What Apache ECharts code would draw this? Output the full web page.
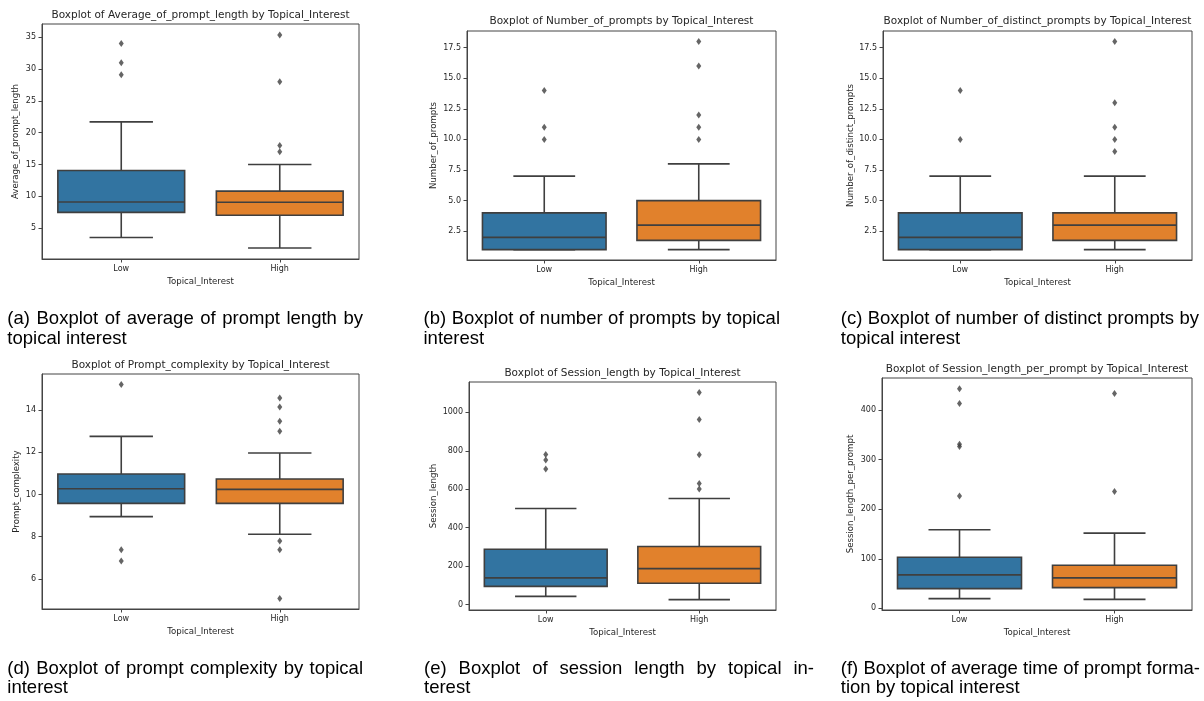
<!DOCTYPE html>
<html><head><meta charset="utf-8">
<script src="https://cdn.jsdelivr.net/npm/echarts@6/dist/echarts.min.js"></script>
<style>html,body{margin:0;padding:0;background:#fff}#c{width:1204px;height:701px}</style>
</head><body><div id="c"></div>
<script>
// ---------- DATA ----------
const categories = ['Low', 'High'];
// box stats: [lower whisker, Q1, median, Q3, upper whisker]
const avgLenLow = [3.5, 7.45, 9.1, 14.05, 21.7];
const avgLenHigh = [1.85, 7.0, 9.05, 10.8, 15.0];
const avgLenOutLow = [29.1, 31.0, 34.05];
const avgLenOutHigh = [17.0, 18.0, 28.0, 35.35];
const avgLenTicks = [5, 10, 15, 20, 25, 30, 35];
const avgLenRange = [0.12, 37.1];

const numPromptsLow = [1, 1, 2, 4, 7];
const numPromptsHigh = [1, 1.75, 3, 5, 8];
const numPromptsOutLow = [10, 11, 14];
const numPromptsOutHigh = [10, 11, 12, 16, 18];
const numPromptsTicks = [2.5, 5, 7.5, 10, 12.5, 15, 17.5];
const numPromptsRange = [0.15, 18.85];

const distinctLow = [1, 1, 2, 4, 7];
const distinctHigh = [1, 1.75, 3, 4, 7];
const distinctOutLow = [10, 14];
const distinctOutHigh = [9, 10, 11, 13, 18];
const distinctTicks = [2.5, 5, 7.5, 10, 12.5, 15, 17.5];
const distinctRange = [0.15, 18.85];

const complexityLow = [8.95, 9.58, 10.27, 10.97, 12.75];
const complexityHigh = [8.12, 9.58, 10.24, 10.73, 11.96];
const complexityOutLow = [6.85, 7.38, 15.2];
const complexityOutHigh = [5.08, 7.38, 7.8, 12.99, 13.46, 14.14, 14.57];
const complexityTicks = [6, 8, 10, 12, 14];
const complexityRange = [4.58, 15.7];

const sessionLow = [43, 95, 139, 288, 500];
const sessionHigh = [26, 111, 187, 302, 552];
const sessionOutLow = [705, 752, 781];
const sessionOutHigh = [602, 630, 779, 963, 1104];
const sessionTicks = [0, 200, 400, 600, 800, 1000];
const sessionRange = [-28, 1158];

const perPromptLow = [19.6, 39.8, 67.5, 103, 158.6];
const perPromptHigh = [18.2, 41.8, 61.4, 87, 151.8];
const perPromptOutLow = [226.7, 326.6, 331, 413, 443];
const perPromptOutHigh = [235.5, 433];
const perPromptTicks = [0, 100, 200, 300, 400];
const perPromptRange = [-3.3, 464.5];

const titles = [
  'Boxplot of Average_of_prompt_length by Topical_Interest',
  'Boxplot of Number_of_prompts by Topical_Interest',
  'Boxplot of Number_of_distinct_prompts by Topical_Interest',
  'Boxplot of Prompt_complexity by Topical_Interest',
  'Boxplot of Session_length by Topical_Interest',
  'Boxplot of Session_length_per_prompt by Topical_Interest'
];
const yNames = ['Average_of_prompt_length', 'Number_of_prompts', 'Number_of_distinct_prompts',
  'Prompt_complexity', 'Session_length', 'Session_length_per_prompt'];
const xName = 'Topical_Interest';
const captionLine1 = [
  '(a) Boxplot of average of prompt length by',
  '(b) Boxplot of number of prompts by topical',
  '(c) Boxplot of number of distinct prompts by',
  '(d) Boxplot of prompt complexity by topical',
  '(e) Boxplot of session length by topical in-',
  '(f) Boxplot of average time of prompt forma-'
];
const captionLine2 = [
  'topical interest', 'interest', 'topical interest',
  'interest', 'terest', 'tion by topical interest'
];

// ---------- LAYOUT / STYLE ----------
const layouts = [
  {left: 42,  top: 24,  width: 317, height: 235, gap: 21.5, titleY: 15,  dec: 0},
  {left: 467, top: 31,  width: 309, height: 229, gap: 29,   titleY: 21,  dec: 1},
  {left: 883, top: 31,  width: 309, height: 229, gap: 27.5, titleY: 21,  dec: 1},
  {left: 42,  top: 374, width: 317, height: 235, gap: 21,   titleY: 365, dec: 0},
  {left: 469, top: 382, width: 307, height: 228, gap: 31,   titleY: 373, dec: 0},
  {left: 882, top: 378, width: 310, height: 232, gap: 27,   titleY: 369, dec: 0}
];
// caption: [left x, right x of justified first line, first-line middle y]
const capPos = [[7.3, 363, 319], [423.5, 780, 319], [840.8, 1199, 319],
                [7.3, 363, 668.5], [424, 814, 668.5], [840.8, 1200, 668.5]];
const CAP_LINE_H = 19.6;

const panels = [
  [avgLenLow, avgLenHigh, avgLenOutLow, avgLenOutHigh, avgLenTicks, avgLenRange],
  [numPromptsLow, numPromptsHigh, numPromptsOutLow, numPromptsOutHigh, numPromptsTicks, numPromptsRange],
  [distinctLow, distinctHigh, distinctOutLow, distinctOutHigh, distinctTicks, distinctRange],
  [complexityLow, complexityHigh, complexityOutLow, complexityOutHigh, complexityTicks, complexityRange],
  [sessionLow, sessionHigh, sessionOutLow, sessionOutHigh, sessionTicks, sessionRange],
  [perPromptLow, perPromptHigh, perPromptOutLow, perPromptOutHigh, perPromptTicks, perPromptRange]
];

const FONT = 'DejaVu Sans';
const CAP_FONT = '18.5px "Liberation Sans"';
const TXT = '#262626';
const EDGE = '#3f3f3f';
const FRAME = '#444';
const BOX_COLORS = ['#3274a1', '#e1812c'];
const LW = 1.6;

function renderBox(params, api) {
  const ci = api.value(0);
  const pLw = api.coord([ci, api.value(1)]);
  const pQ1 = api.coord([ci, api.value(2)]);
  const pMed = api.coord([ci, api.value(3)]);
  const pQ3 = api.coord([ci, api.value(4)]);
  const pHw = api.coord([ci, api.value(5)]);
  const bw = api.size([1, 0])[0] * 0.8;
  const x = pMed[0];
  const ls = {stroke: EDGE, lineWidth: LW};
  return {
    type: 'group',
    children: [
      {type: 'line', shape: {x1: x, y1: pLw[1], x2: x, y2: pQ1[1]}, style: ls},
      {type: 'line', shape: {x1: x, y1: pQ3[1], x2: x, y2: pHw[1]}, style: ls},
      {type: 'line', shape: {x1: x - bw / 4, y1: pLw[1], x2: x + bw / 4, y2: pLw[1]}, style: ls},
      {type: 'line', shape: {x1: x - bw / 4, y1: pHw[1], x2: x + bw / 4, y2: pHw[1]}, style: ls},
      {type: 'rect', shape: {x: x - bw / 2, y: pQ3[1], width: bw, height: pQ1[1] - pQ3[1]},
        style: {fill: BOX_COLORS[ci], stroke: EDGE, lineWidth: LW}},
      {type: 'line', shape: {x1: x - bw / 2, y1: pMed[1], x2: x + bw / 2, y2: pMed[1]}, style: ls}
    ]
  };
}

const measureCtx = document.createElement('canvas').getContext('2d');
measureCtx.font = CAP_FONT;

const grid = [], xAxis = [], yAxis = [], series = [], graphic = [];
panels.forEach((p, i) => {
  const [low, high, outLow, outHigh, ticks, range] = p;
  const L = layouts[i];
  grid.push({left: L.left, top: L.top, width: L.width, height: L.height,
    show: true, borderColor: FRAME, borderWidth: 1, backgroundColor: 'transparent'});
  xAxis.push({
    type: 'category', gridIndex: i, data: categories,
    name: xName, nameLocation: 'middle', nameGap: 18,
    nameTextStyle: {fontFamily: FONT, fontSize: 8.6, color: TXT},
    axisLine: {show: true, onZero: false, lineStyle: {color: FRAME, width: 1}},
    axisTick: {show: true, alignWithLabel: true, length: 3.5, lineStyle: {color: FRAME}},
    axisLabel: {fontFamily: FONT, fontSize: 8, color: TXT, margin: 5.5},
    splitLine: {show: false}
  });
  yAxis.push({
    type: 'value', gridIndex: i, min: range[0], max: range[1],
    name: yNames[i], nameLocation: 'middle', nameGap: L.gap,
    nameTextStyle: {fontFamily: FONT, fontSize: 8.6, color: TXT},
    axisLine: {show: true, onZero: false, lineStyle: {color: FRAME, width: 1}},
    axisTick: {show: true, length: 3.5, lineStyle: {color: FRAME}, customValues: ticks},
    axisLabel: {fontFamily: FONT, fontSize: 8, color: TXT, margin: 6, customValues: ticks,
      formatter: v => v.toFixed(L.dec)},
    splitLine: {show: false}
  });
  series.push({
    type: 'custom', xAxisIndex: i, yAxisIndex: i, renderItem: renderBox,
    encode: {x: 0, y: [1, 2, 3, 4, 5]},
    data: [[0, ...low], [1, ...high]], z: 2
  });
  series.push({
    type: 'scatter', xAxisIndex: i, yAxisIndex: i, symbol: 'diamond', symbolSize: [5, 7],
    itemStyle: {color: EDGE},
    data: outLow.map(v => [0, v]).concat(outHigh.map(v => [1, v])), z: 3
  });
  graphic.push({
    type: 'text', x: L.left + L.width / 2, y: L.titleY, silent: true,
    style: {text: titles[i], fill: TXT, font: '10.5px "' + FONT + '"', align: 'center', verticalAlign: 'middle'}
  });
  // caption: justified first line (word by word), ragged second line
  const [cx, cRight, cy] = capPos[i];
  const words = captionLine1[i].split(' ');
  const widths = words.map(w => measureCtx.measureText(w).width);
  const total = widths.reduce((a, b) => a + b, 0);
  const space = (cRight - cx - total) / (words.length - 1);
  let wx = cx;
  words.forEach((w, k) => {
    graphic.push({type: 'text', x: wx, y: cy, silent: true,
      style: {text: w, fill: '#000', font: CAP_FONT, align: 'left', verticalAlign: 'middle'}});
    wx += widths[k] + space;
  });
  graphic.push({type: 'text', x: cx, y: cy + CAP_LINE_H, silent: true,
    style: {text: captionLine2[i], fill: '#000', font: CAP_FONT, align: 'left', verticalAlign: 'middle'}});
});

const chart = echarts.init(document.getElementById('c'), null, {renderer: 'canvas'});
chart.setOption({animation: false, backgroundColor: '#fff', grid, xAxis, yAxis, series, graphic});
</script>
</body></html>
